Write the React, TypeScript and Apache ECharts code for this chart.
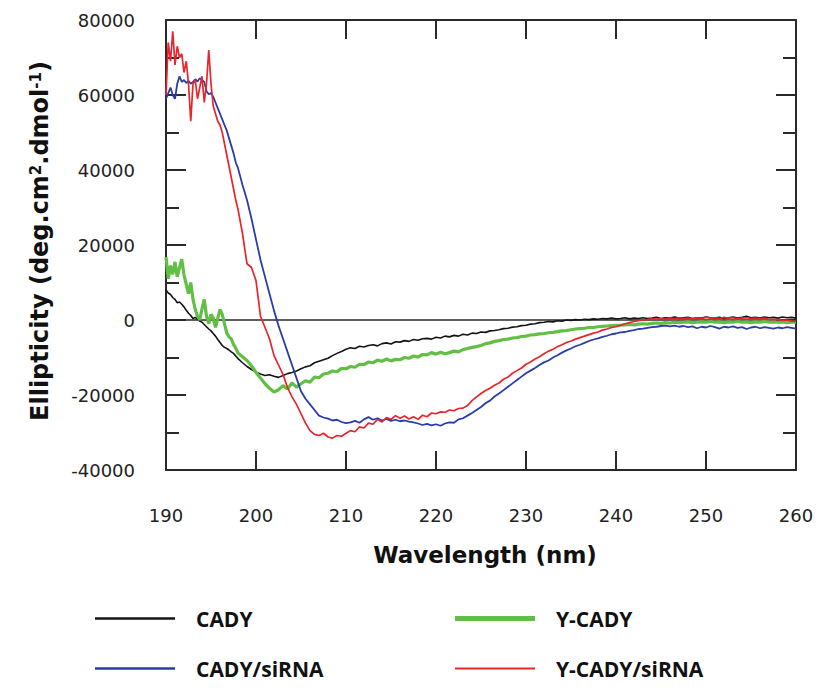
import React, { useEffect, useRef } from "react";
import * as echarts from "echarts";

// ---- axis settings ----
const X_MIN = 190;
const X_MAX = 260;
const X_STEP = 10;
const Y_MIN = -40000;
const Y_MAX = 80000;
const Y_STEP = 20000;

// ---- wavelength grid (nm): 0.25 nm to 198, then 0.5 nm ----
const WAVELENGTH: number[] = [
  ...Array.from({ length: 32 }, (_, i) => 190 + i * 0.25),
  ...Array.from({ length: 125 }, (_, i) => 198 + i * 0.5),
];

// ---- ellipticity values, in units of 1000 deg.cm2.dmol-1 ----
const CADY_K: number[] = [
  8, 7.2, 6.8, 6, 5.5, 4.6, 4.8, 4.2,
  3.5, 2.6, 1.8, 1.2, 0.4, 0.7, 0.2, -0.3,
  -0.6, -1.2, -1.8, -2.4, -2.9, -3.6, -4.3, -5.2,
  -6, -6.8, -7.3, -7.6, -8, -8.5, -8.9, -9.6,
  -10.3, -11.4, -12.4, -13.2, -13.9, -14.4, -14.8, -14.6, -15, -15.3,
  -14.8, -14.3, -14, -13.6, -13, -12.5, -12.2, -11.4, -11, -10.6,
  -10.2, -9.5, -8.9, -8.4, -7.8, -7.4, -7.6, -7, -7.2, -6.8,
  -6.6, -6.9, -6.3, -6.1, -6.4, -5.8, -5.9, -5.5, -5.7, -5.2,
  -5.4, -5, -4.9, -5.1, -4.6, -4.8, -4.3, -4.5, -4.1, -4.3,
  -3.8, -4, -3.5, -3.6, -3.2, -3.3, -2.9, -2.8, -2.6, -2.3,
  -2.2, -1.9, -1.8, -1.5, -1.4, -1.1, -1, -0.7, -0.6, -0.4,
  -0.5, -0.2, -0.3, 0, -0.1, 0.1, 0, 0.2, 0.1, 0.3,
  0.2, 0.4, 0.3, 0.5, 0.3, 0.4, 0.6, 0.3, 0.5, 0.4,
  0.6, 0.4, 0.5, 0.7, 0.4, 0.6, 0.5, 0.8, 0.5, 0.6,
  0.7, 0.4, 0.6, 0.5, 0.8, 0.6, 0.5, 0.7, 0.4, 0.6,
  0.8, 0.5, 0.7, 1, 0.6, 0.7, 0.5, 0.8, 0.6, 0.7,
  0.5, 0.8, 0.6, 0.7, 0.5,
];

const Y_CADY_K: number[] = [
  16.8, 11, 14.5, 12.2, 15.5, 11.5, 14, 16.2,
  12, 9.5, 7, 10, 5.5, 2.8, 1, 0,
  3, 5.5, 1, -1, 1.5, 0.5, -2, 0.5,
  2.8, 1.5, -1, -3.5, -4.5, -5, -6.5, -7.5,
  -8.8, -9.8, -10.8, -12.2, -14, -15.5, -17, -18.2, -19.2, -18.6,
  -17.5, -18.4, -16.8, -17.9, -17, -16.2, -16.6, -15.2, -15.4, -14.4,
  -14.2, -13.6, -13.8, -12.9, -13, -12.4, -12.6, -11.8, -11.9, -11.2,
  -11.4, -10.7, -11, -10.4, -10.9, -10.5, -10.6, -10, -10.2, -9.6,
  -9.9, -9.2, -9.3, -8.7, -9.1, -8.6, -9, -8.7, -8.3, -8.5,
  -7.9, -7.6, -7.3, -7.1, -6.8, -6.3, -6.1, -5.7, -5.5, -5.2,
  -5.1, -4.8, -4.7, -4.4, -4.3, -4, -3.9, -3.7, -3.6, -3.4,
  -3.3, -3.1, -2.9, -2.8, -2.6, -2.4, -2.3, -2.2, -2, -2,
  -1.8, -1.7, -1.6, -1.5, -1.4, -1.4, -1.3, -1.2, -1.3, -1.1,
  -1, -1.1, -0.9, -0.8, -0.9, -0.7, -0.8, -0.6, -0.7, -0.6,
  -0.5, -0.7, -0.6, -0.5, -0.6, -0.4, -0.6, -0.5, -0.7, -0.5,
  -0.6, -0.4, -0.6, -0.5, -0.7, -0.5, -0.6, -0.4, -0.6, -0.5,
  -0.6, -0.5, -0.7, -0.6, -0.6,
];

const CADY_SIRNA_K: number[] = [
  59, 60.5, 62, 60, 59, 63, 65, 63.5,
  64, 63.2, 63.8, 63, 63.5, 64.2, 63.6, 64.5,
  64, 63.5, 61, 60.2, 60.5, 59.5, 58, 56.5,
  55, 53.5, 52, 50.5, 48.5, 46.5, 44.5, 42,
  40.5, 36, 32, 27, 21.5, 16, 11.5, 7, 2.5, -1.5,
  -5, -8.5, -12, -15.5, -19, -21, -22.5, -24, -25.5, -26,
  -26.3, -26.8, -26.6, -27.2, -27.5, -27.3, -26.9, -27.4, -26.5, -25.9,
  -26.6, -26.2, -26.8, -26.4, -26.9, -26.6, -27, -26.8, -27.1, -27.3,
  -27.6, -28, -27.7, -28.1, -27.8, -28.2, -27.6, -27.3, -27.4, -26.5,
  -26.2, -25.5, -24.8, -24, -23.2, -22.2, -21.5, -20.4, -19.6, -18.7,
  -17.8, -16.9, -16, -15.1, -14.2, -13.5, -12.8, -12, -11.3, -10.8,
  -10, -9.4, -8.7, -8.1, -7.6, -7, -6.6, -6.1, -5.6, -5.2,
  -4.9, -4.5, -4.2, -3.8, -3.6, -3.3, -3.2, -2.9, -2.7, -2.4,
  -2.3, -2.1, -1.9, -1.8, -1.6, -1.5, -1.7, -1.5, -1.8, -1.6,
  -1.9, -1.7, -2.2, -1.8, -2, -1.6, -1.9, -2.3, -1.8, -2,
  -1.7, -2.1, -1.9, -2.4, -2, -1.8, -2.2, -1.9, -2.1, -2.3,
  -2, -2.2, -1.9, -2.1, -2.3,
];

const Y_CADY_SIRNA_K: number[] = [
  60, 74, 69, 77, 68, 73, 70, 71,
  66, 69, 63, 53, 63, 64, 59, 62,
  65, 58, 63, 72, 63, 57, 55, 53,
  52, 50, 47, 44, 41, 38, 35, 32,
  29.5, 23, 15, 14, 10.5, 1, -2, -5, -9.5, -12,
  -14.5, -18, -20.5, -22.5, -25, -27.5, -29.5, -30.5, -30.8, -30.2,
  -31.2, -31.5, -30.8, -31, -30.2, -29.5, -29.8, -28.5, -28.8, -27.5,
  -27.8, -26.5, -27.2, -26, -26.5, -25.5, -26.2, -25.6, -26.4, -25.8,
  -26.5, -25.4, -25.8, -24.8, -25, -24.5, -24.6, -24, -24.2, -23.6,
  -23.5, -22.8, -21.5, -20.5, -19.6, -18.8, -18.2, -17.4, -16.8, -15.8,
  -15.2, -14.2, -13.5, -12.8, -11.8, -11.2, -10.4, -9.8, -9, -8.3,
  -7.8, -7.1, -6.6, -6, -5.6, -5.1, -4.7, -4.3, -3.9, -3.5,
  -3.2, -2.7, -2.4, -2, -1.8, -1.4, -1, -0.7, -0.4, -0.2,
  0, 0.1, 0.3, 0.2, 0.4, 0.2, 0.5, 0.3, 0.6, 0.4,
  0.5, 0.3, 0.6, 0.4, 0.7, 0.5, 0.6, 0.4, 0.7, 0.5,
  0.6, 0.3, 0.5, 0.6, 0.4, 0.5, 0.3, 0.5, 0.2, 0.1,
  0.2, -0.1, 0, -0.3, -0.4,
];

const SERIES_NAMES = ["CADY", "Y-CADY", "CADY/siRNA", "Y-CADY/siRNA"];
const SERIES_VALUES_K = [CADY_K, Y_CADY_K, CADY_SIRNA_K, Y_CADY_SIRNA_K];
const SERIES_COLORS = ["#141414", "#62bf45", "#2a3ca8", "#e8252a"];
const SERIES_WIDTHS = [1.6, 3.2, 1.8, 1.7];
const LEGEND_WIDTHS = [2.5, 5, 2.5, 2.2];
const LEGEND_CENTER_Y = [622, 622, 672, 672];
const LEGEND_LEFT = [95, 455, 95, 455];

const AXIS_COLOR = "#2a2a2a";
const TICK_FONT = "DejaVu Sans";
const LEGEND_FONT_SIZE = 21;

export default function App() {
  const ref = useRef<HTMLDivElement>(null);

  useEffect(() => {
    if (!ref.current) return;
    const chart = echarts.init(ref.current, undefined, { renderer: "svg" });

    const series: any[] = SERIES_NAMES.map((name, s) => ({
      name,
      type: "line",
      xAxisIndex: 0,
      yAxisIndex: 0,
      showSymbol: false,
      symbol: "none",
      smooth: false,
      z: 3 + s,
      lineStyle: { color: SERIES_COLORS[s], width: SERIES_WIDTHS[s] },
      itemStyle: { color: SERIES_COLORS[s] },
      data: WAVELENGTH.map((w, i) => [w, SERIES_VALUES_K[s][i] * 1000]),
      markLine:
        s === 0
          ? {
              silent: true,
              symbol: "none",
              label: { show: false },
              lineStyle: { color: AXIS_COLOR, width: 1.5, type: "solid" },
              data: [{ yAxis: 0 }],
              z: 2,
            }
          : undefined,
    }));

    // text box of the legend label (font size * ~1.36) sets the item height
    const legend = SERIES_NAMES.map((name, s) => ({
      data: [name],
      left: LEGEND_LEFT[s],
      top: LEGEND_CENTER_Y[s] - Math.round((LEGEND_FONT_SIZE * 1.36) / 2),
      padding: 0,
      icon: "rect",
      itemWidth: 80,
      itemHeight: LEGEND_WIDTHS[s],
      selectedMode: false,
      itemStyle: { color: SERIES_COLORS[s] },
      textStyle: {
        fontFamily: "Open Sans",
        fontWeight: "bold",
        fontSize: LEGEND_FONT_SIZE,
        color: "#111",
        padding: [0, 0, 0, 16],
      },
    }));

    const baseX = {
      type: "value",
      min: X_MIN,
      max: X_MAX,
      interval: X_STEP,
      splitLine: { show: false },
      axisLine: { show: true, onZero: false, lineStyle: { color: AXIS_COLOR, width: 2 } },
      axisTick: { show: true, inside: true, length: 19, lineStyle: { color: AXIS_COLOR, width: 2 } },
    };
    const baseY = {
      type: "value",
      min: Y_MIN,
      max: Y_MAX,
      interval: Y_STEP,
      splitLine: { show: false },
      axisLine: { show: true, onZero: false, lineStyle: { color: AXIS_COLOR, width: 2 } },
      axisTick: { show: true, inside: true, length: 20, lineStyle: { color: AXIS_COLOR, width: 2 } },
      minorTick: { show: true, splitNumber: 2, length: 13, lineStyle: { color: AXIS_COLOR, width: 2 } },
      minorSplitLine: { show: false },
    };

    chart.setOption({
      animation: false,
      backgroundColor: "#ffffff",
      grid: { left: 166, top: 20, right: 24, bottom: 218, containLabel: false },
      legend,
      xAxis: [
        {
          ...baseX,
          position: "bottom",
          axisLabel: {
            show: true,
            margin: 36,
            fontFamily: TICK_FONT,
            fontSize: 18,
            color: "#222",
            formatter: (v: number) => String(v),
          },
        },
        { ...baseX, position: "top", axisLabel: { show: false } },
      ],
      yAxis: [
        {
          ...baseY,
          position: "left",
          axisLabel: {
            show: true,
            margin: 31,
            fontFamily: TICK_FONT,
            fontSize: 18,
            color: "#222",
            formatter: (v: number) => String(v),
          },
        },
        { ...baseY, position: "right", axisLabel: { show: false } },
      ],
      graphic: [
        {
          type: "text",
          x: 40,
          y: 241,
          rotation: Math.PI / 2,
          style: {
            text: "Ellipticity (deg.cm{sup|2}.dmol{sup|-1})",
            fontFamily: "DejaVu Sans",
            fontWeight: "bold",
            fontSize: 24,
            fill: "#111",
            align: "center",
            verticalAlign: "middle",
            rich: {
              sup: {
                fontFamily: "DejaVu Sans",
                fontWeight: "bold",
                fontSize: 15,
                fill: "#111",
                verticalAlign: "top",
              },
            },
          },
        },
        {
          type: "text",
          x: 485,
          y: 555,
          style: {
            text: "Wavelength (nm)",
            fontFamily: "DejaVu Sans",
            fontWeight: "bold",
            fontSize: 23,
            fill: "#111",
            align: "center",
            verticalAlign: "middle",
          },
        },
      ],
      series,
    });

    return () => chart.dispose();
  }, []);

  return (
    <div
      ref={ref}
      style={{ position: "fixed", left: 0, top: 0, width: 820, height: 688, background: "#fff" }}
    />
  );
}
